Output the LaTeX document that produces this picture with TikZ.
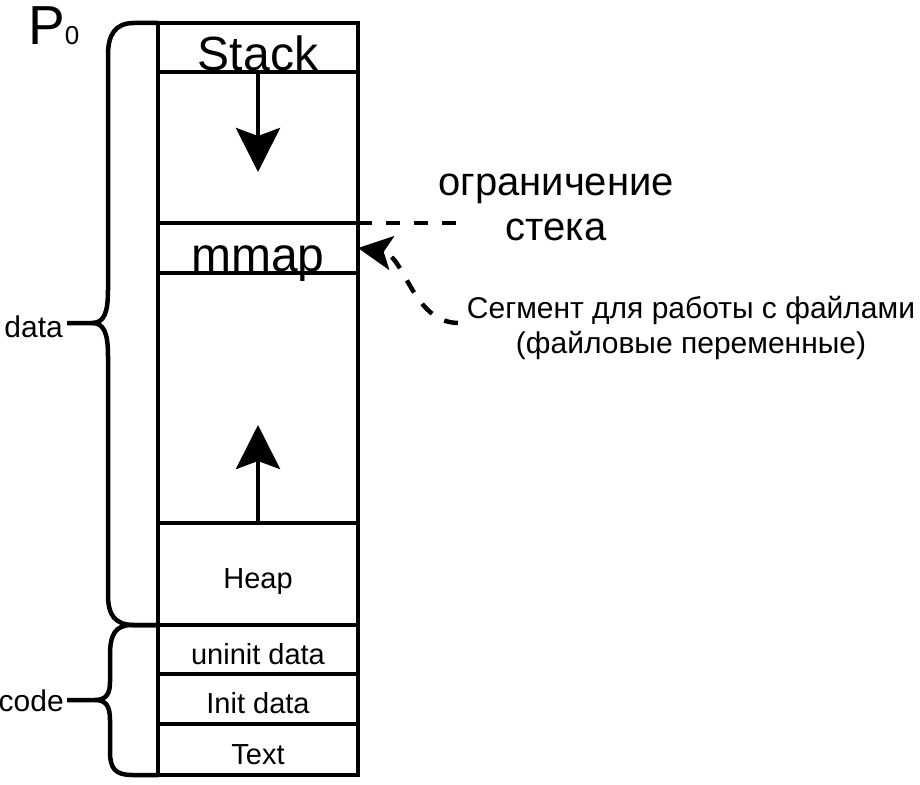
\documentclass[tikz,border=0pt]{standalone}
\usepackage{fontspec}
\setmainfont{Liberation Sans}
\usetikzlibrary{arrows.meta}

\tikzset{
	seg/.style={draw, line width=4.5pt, minimum width=200pt, inner sep=0pt, outer sep=0pt,
		font=\fontsize{29}{34}\selectfont, text height=29pt, text depth=0pt},
	bigseg/.style={seg, font=\fontsize{48}{56}\selectfont, text height=46pt},
	growarrow/.style={line width=4.5pt, -{Stealth[length=44pt, width=44pt, inset=8pt]}},
	filearrow/.style={line width=4.5pt, dash pattern=on 14pt off 14pt, -{Stealth[length=34pt, width=34pt, inset=8pt]}},
	limitline/.style={line width=4.5pt, dash pattern=on 14pt off 14pt},
	brace/.style={line width=4.5pt},
	side/.style={inner sep=0pt, font=\fontsize{30}{34}\selectfont},
}

\begin{document}
\begin{tikzpicture}[x=1pt, y=-1pt]
	\useasboundingbox (0,0) rectangle (920,784);
	\node [bigseg, minimum height=49pt] (stack) at (258,47.5) {Stack};
	\node [seg, minimum height=151pt] (free1) at (258,147.5) {};
	\node [bigseg, minimum height=50pt] (mmap) at (258,248) {mmap};
	\node [seg, minimum height=250pt] (free2) at (258,398) {};
	\node [seg, minimum height=102pt] (heap) at (258,574) {Heap};
	\node [seg, minimum height=49pt] (uninit) at (258,649.5) {uninit data};
	\node [seg, minimum height=50pt] (init) at (258,699) {Init data};
	\node [seg, minimum height=51pt] (text) at (258,749.5) {Text};

	\node [anchor=base west, inner sep=0pt] (p0) at (28,45)
		{\fontsize{55}{55}\selectfont P\fontsize{26}{26}\selectfont 0};
	\node [side, anchor=base east] (data) at (63,337) {data};
	\node [side, anchor=base east] (code) at (64,711) {code};
	\node [anchor=base, align=center, inner sep=0pt, font=\fontsize{40}{45}\selectfont] (limit) at (556,240)
		{ограничение\\стека};
	\node [anchor=base, align=center, inner sep=0pt, font=\fontsize{30}{35}\selectfont] (segment) at (691,353)
		{Сегмент для работы с файлами\\(файловые переменные)};

	\coordinate (stacktip) at (258,172);
	\coordinate (heaptip) at (258,425);
	\coordinate (limend) at (458,223);
	\coordinate (segtail) at (458,323);
	\coordinate (datatip) at (67,323);
	\coordinate (codetip) at (67,700);

	\draw [growarrow] (stack.south) -- (stacktip);
	\draw [growarrow] (heap.north) -- (heaptip);
	\draw [limitline] (mmap.north east) -- (limend);
	\draw [filearrow] (segtail) .. controls (412,322) and (405,255) .. (mmap.east);

	\draw [brace] (stack.north west) -- (134,23) .. controls (115,23) and (108,35) .. (108,55)
		-- (108,290) .. controls (108,313) and (104,323) .. (92,323) -- (datatip);
	\draw [brace] (92,323) .. controls (104,323) and (108,333) .. (108,356)
		-- (108,595) .. controls (108,615) and (115,625) .. (134,625) -- (heap.south west);
	\draw [brace] (uninit.north west) -- (132,625) .. controls (115,625) and (110,635) .. (110,655)
		-- (110,682) .. controls (110,694) and (106,700) .. (95,700) -- (codetip);
	\draw [brace] (95,700) .. controls (106,700) and (110,706) .. (110,720)
		-- (110,752) .. controls (110,768) and (115,775) .. (132,775) -- (text.south west);
\end{tikzpicture}
\end{document}
